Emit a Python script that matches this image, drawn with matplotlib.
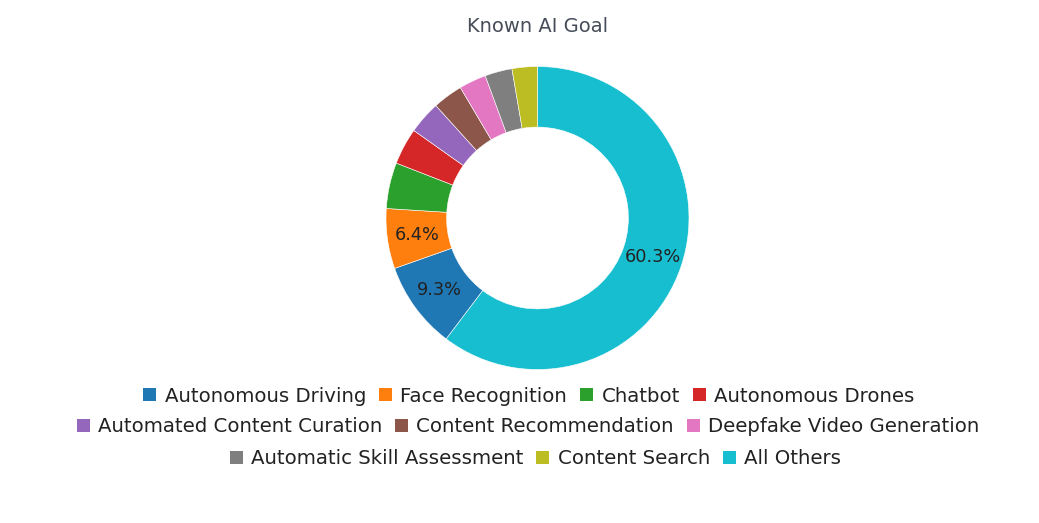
import matplotlib
matplotlib.use("Agg")
import matplotlib.pyplot as plt
from matplotlib.patches import Patch

categories = ["All Others", "Autonomous Driving", "Face Recognition", "Chatbot",
              "Autonomous Drones", "Automated Content Curation", "Content Recommendation",
              "Deepfake Video Generation", "Automatic Skill Assessment", "Content Search"]
values = [60.3, 9.3, 6.4, 4.9, 3.9, 3.5, 3.2, 2.9, 2.9, 2.7]
colors = ["#17becf", "#1f77b4", "#ff7f0e", "#2ca02c", "#d62728", "#9467bd",
          "#8c564b", "#e377c2", "#7f7f7f", "#bcbd22"]
legend_rows = [
    ["Autonomous Driving", "Face Recognition", "Chatbot", "Autonomous Drones"],
    ["Automated Content Curation", "Content Recommendation", "Deepfake Video Generation"],
    ["Automatic Skill Assessment", "Content Search", "All Others"],
]
title = "Known AI Goal"

plt.rcParams['font.family'] = ['DejaVu Sans']

W, H = 1039, 523
fig = plt.figure(figsize=(W / 100, H / 100), dpi=100)
cx, cy, r = 537.5, 218, 151.5
ax = fig.add_axes([(cx - r) / W, (H - cy - r) / H, 2 * r / W, 2 * r / H])

def fmt(p):
    return f"{p:.1f}%" if p >= 6 else ""

wedges, texts, autotexts = ax.pie(
    values, colors=colors, startangle=90, counterclock=False, radius=1,
    autopct=fmt, pctdistance=0.8,
    wedgeprops=dict(width=0.4, edgecolor="white", linewidth=0.4),
    textprops=dict(color="#222222", fontsize=12.8))
ax.set_xlim(-1, 1)
ax.set_ylim(-1, 1)
ax.set_aspect("equal")
ax.axis("off")

fig.text(cx / W, 1 - 26 / H, title, ha="center", va="center",
         fontsize=14, color="#474d58")

cmap = dict(zip(categories, colors))
row_pos = [(529, 396), (528, 427), (535.5, 459)]
for row, (x, y) in zip(legend_rows, row_pos):
    handles = [Patch(facecolor=cmap[c], edgecolor="none") for c in row]
    fig.legend(handles, row, loc="center", bbox_to_anchor=(x / W, 1 - y / H),
               ncol=len(row), frameon=False, fontsize=14.2,
               handlelength=0.66, handleheight=0.66, handletextpad=0.42,
               columnspacing=0.66, borderpad=0, borderaxespad=0,
               labelcolor="#222222")

fig.savefig("out.png", dpi=100)
